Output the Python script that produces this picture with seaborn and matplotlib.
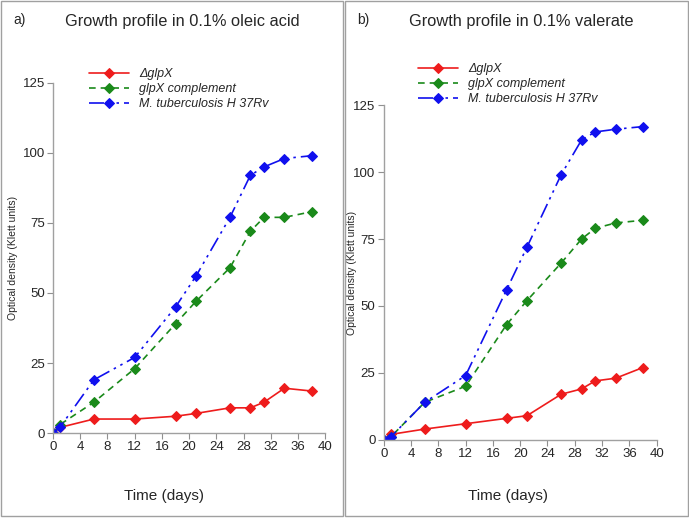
import numpy as np
import pandas as pd
import seaborn as sns
import matplotlib.pyplot as plt
from matplotlib.patches import Rectangle

days = [0, 1, 6, 12, 18, 21, 26, 29, 31, 34, 38]
strains = ['ΔglpX', 'glpX complement', 'M. tuberculosis H 37Rv']

# panel a) oleic acid
oleic_glpx = [0, 2, 5, 5, 6, 7, 9, 9, 11, 16, 15]
oleic_comp = [0, 3, 11, 23, 39, 47, 59, 72, 77, 77, 79]
oleic_h37 = [0, 2, 19, 27, 45, 56, 77, 92, 95, 98, 99]

# panel b) valerate
val_glpx = [0, 2, 4, 6, 8, 9, 17, 19, 22, 23, 27]
val_comp = [0, 1, 14, 20, 43, 52, 66, 75, 79, 81, 82]
val_h37 = [0, 1, 14, 24, 56, 72, 99, 112, 115, 116, 117]

colors = ['#ee1c1c', '#1a8a1a', '#1010ee']
dashes = ['-', (0, (4, 3)), (0, (9, 3, 1.5, 3, 1.5, 3))]

sns.set_style('white')
plt.rcParams['font.family'] = ['Liberation Sans', 'DejaVu Sans']

fig = plt.figure(figsize=(6.89, 5.18), dpi=100)
for x0 in [0.001, 0.501]:
    fig.patches.append(Rectangle((x0, 0.003), 0.497, 0.995, transform=fig.transFigure,
                                 fill=False, edgecolor='#a0a0a0', lw=1))

panels = [
    ('a)', 'Growth profile in 0.1% oleic acid', [0.077, 0.164, 0.395, 0.676],
     [oleic_glpx, oleic_comp, oleic_h37], (0.112, 0.89), 0.264),
    ('b)', 'Growth profile in 0.1% valerate', [0.557, 0.151, 0.396, 0.646],
     [val_glpx, val_comp, val_h37], (0.089, 0.9), 0.255),
]

for i, (tag, title, pos, series, legpos, tx) in enumerate(panels):
    ax = fig.add_axes(pos)
    df = pd.DataFrame({'day': days * 3,
                       'od': np.concatenate(series),
                       'strain': np.repeat(strains, len(days))})
    for s, c, d in zip(strains, colors, dashes):
        sub = df[df['strain'] == s]
        sns.lineplot(data=sub, x='day', y='od', ax=ax, color=c, marker='D',
                     markersize=5.5, markeredgecolor=c, linewidth=1.2,
                     linestyle=d, label=s)
    ax.set_xlim(0, 40)
    ax.set_ylim(0, 125)
    ax.set_xticks(range(0, 41, 4))
    ax.set_yticks(range(0, 126, 25))
    ax.tick_params(axis='both', direction='out', length=4, color='#909090',
                   labelsize=9.5, bottom=True, left=True, pad=2)
    for sp in ['top', 'right']:
        ax.spines[sp].set_visible(False)
    for sp in ['left', 'bottom']:
        ax.spines[sp].set_color('#a0a0a0')
        ax.spines[sp].set_linewidth(1)
    ax.set_ylabel('Optical density (Klett units)', fontsize=7.5,
                  labelpad=3 if i == 0 else -3)
    ax.set_xlabel('')
    xc = 0.001 + 0.5 * i
    fig.text(xc + 0.237, 0.035, 'Time (days)', ha='center', fontsize=11)
    fig.text(xc + 0.018, 0.962, tag, fontsize=10, va='center')
    fig.text(xc + tx, 0.958, title, fontsize=11.8, ha='center', va='center')
    leg = ax.legend(loc='upper left', frameon=False, handlelength=3.2,
                    handletextpad=0.8, labelspacing=0.25, markerscale=0.9,
                    prop={'style': 'italic', 'size': 9})
    leg.set_bbox_to_anchor((xc + legpos[0], legpos[1]), transform=fig.transFigure)

fig.savefig('out.png', dpi=100)
